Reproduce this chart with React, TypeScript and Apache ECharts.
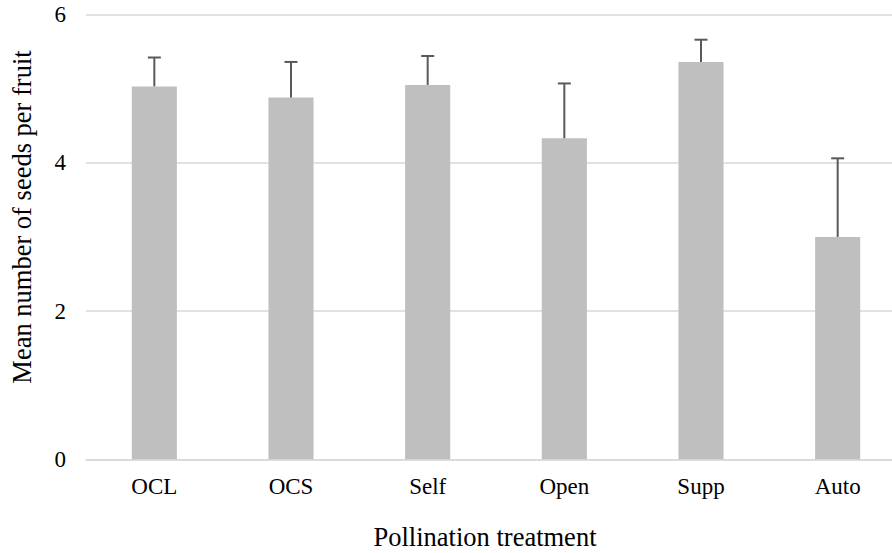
import React, { useEffect, useRef } from "react";
import * as echarts from "echarts";

// Pollination treatments and mean seed counts per fruit (with upper error bars)
const categories = ["OCL", "OCS", "Self", "Open", "Supp", "Auto"];
const meanSeeds = [5.03, 4.88, 5.05, 4.33, 5.36, 3.0];
const upperError = [5.42, 5.36, 5.44, 5.07, 5.66, 4.06];
const yTicks = [0, 2, 4, 6];

const FONT = "'Liberation Serif', 'Times New Roman', serif";

export default function App() {
  const ref = useRef<HTMLDivElement>(null);

  useEffect(() => {
    if (!ref.current) return;
    const chart = echarts.init(ref.current, undefined, { renderer: "svg" });

    const errorData = categories.map((_, i) => [i, meanSeeds[i], upperError[i]]);

    chart.setOption({
      animation: false,
      backgroundColor: "#ffffff",
      grid: { left: 86, right: 0, top: 14.5, bottom: 93.7, containLabel: false },
      xAxis: {
        type: "category",
        data: categories,
        axisLine: { show: true, lineStyle: { color: "#d9d9d9", width: 1.5 } },
        axisTick: { show: false },
        axisLabel: { color: "#000", fontFamily: FONT, fontSize: 23, margin: 16 },
      },
      yAxis: {
        type: "value",
        min: yTicks[0],
        max: yTicks[yTicks.length - 1],
        interval: 2,
        axisLine: { show: false },
        axisTick: { show: false },
        axisLabel: { color: "#000", fontFamily: FONT, fontSize: 23, margin: 20 },
        splitLine: { lineStyle: { color: "#d9d9d9", width: 1.5 } },
      },
      series: [
        {
          type: "bar",
          data: meanSeeds,
          barWidth: "33%",
          itemStyle: { color: "#bfbfbf" },
          z: 2,
        },
        {
          type: "custom",
          data: errorData,
          z: 3,
          renderItem: (params: any, api: any) => {
            const idx = api.value(0);
            const base = api.coord([idx, api.value(1)]);
            const top = api.coord([idx, api.value(2)]);
            const half = 6.5;
            const style = { stroke: "#595959", lineWidth: 2 };
            return {
              type: "group",
              children: [
                { type: "line", shape: { x1: base[0], y1: base[1], x2: top[0], y2: top[1] }, style },
                { type: "line", shape: { x1: top[0] - half, y1: top[1], x2: top[0] + half, y2: top[1] }, style },
              ],
            };
          },
        },
      ],
      graphic: [
        {
          type: "text",
          x: 485,
          y: 537,
          style: {
            text: "Pollination treatment",
            font: `26.5px ${FONT}`,
            fill: "#000",
            textAlign: "center",
            textVerticalAlign: "middle",
          },
        },
        {
          type: "text",
          x: 22,
          y: 217,
          rotation: Math.PI / 2,
          style: {
            text: "Mean number of seeds per fruit",
            font: `26.5px ${FONT}`,
            fill: "#000",
            textAlign: "center",
            textVerticalAlign: "middle",
          },
        },
      ],
    });

    return () => chart.dispose();
  }, []);

  return (
    <div style={{ position: "absolute", left: 0, top: 0, width: 892, height: 553, overflow: "hidden" }}>
      <div ref={ref} style={{ width: 906, height: 553 }} />
    </div>
  );
}
